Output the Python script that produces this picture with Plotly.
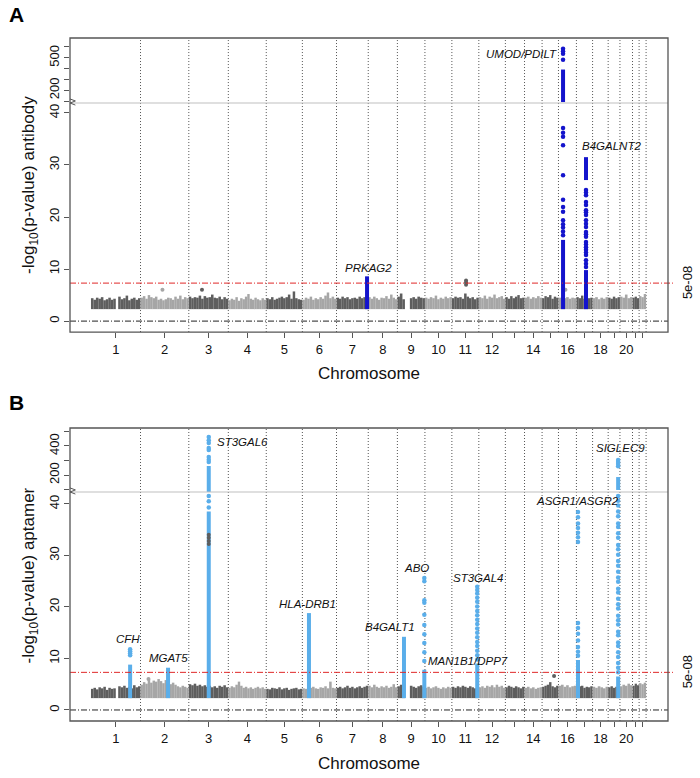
import plotly.graph_objects as go
import numpy as np

# ---------------- data ----------------
chrom_span_mb = [248, 242, 198, 190, 181, 171, 159, 146, 138, 135, 135, 133,
                 96, 88, 82, 90, 81, 78, 59, 63, 33, 35]
tick_labels = ['1', '2', '3', '4', '5', '6', '7', '8', '9', '10', '11', '12',
               '', '14', '', '16', '', '18', '', '20', '', '']

# top of the dense band of sub-threshold SNPs (-log10 p), per chromosome, ~12 Mb bins
band_a = [
    [4.4, 4.1, 4.5, 4.3, 4.6, 4.0, 4.2, 4.5, 4.1, 4.3, None, 4.7, 4.2, 4.4, 4.9, 4.0, 4.3, 4.5, 4.1, 4.4],
    [4.5, 4.8, 4.3, 5.0, 4.6, 4.4, 4.7, 4.1, 4.3, 4.0, 4.2, 4.5, 4.4, 4.1, 4.7, 4.3, 4.9, 4.2, 4.6, 4.4],
    [4.7, 4.4, 4.6, 4.5, 4.9, 4.3, 4.8, 4.5, 4.6, 5.1, 4.5, 4.4, 4.7, 4.2, 4.6, 4.3],
    [4.0, 4.3, 4.1, 4.6, 3.9, 4.4, 4.2, 4.7, 5.2, 4.3, 4.1, 4.5, 4.2, 4.0, 4.4, 4.1],
    [4.4, 4.2, 4.6, 4.1, 4.3, 4.5, 4.7, 4.4, 4.6, 5.1, 4.3, 5.7, 4.4, 4.2, 4.1],
    [4.1, 4.5, 4.3, 4.7, 4.1, 4.4, 4.2, 4.6, 4.3, 4.9, 5.5, 4.4, 4.7, 4.3],
    [4.5, 4.3, 4.7, 4.4, 4.6, 4.2, 4.4, 4.5, 4.3, 4.7, 4.4, 4.6, 4.2],
    [4.6, 4.3, 4.7, 4.4, 4.1, 4.5, 4.4, 4.8, 4.3, 5.1, 4.5, 4.2],
    [4.7, 5.3, 4.2, None, None, 4.4, 4.6, 4.3, 4.7, 4.5, 4.4],
    [4.5, 4.3, 4.6, 4.4, 4.9, 4.2, 4.5, 4.3, 4.7, 4.4, 4.6],
    [4.4, 4.7, 4.5, 4.6, 4.3, 5.3, 4.7, 4.4, 4.6, 4.2, 4.5],
    [4.6, 4.4, 4.9, 4.3, 4.7, 4.5, 5.1, 4.4, 4.6, 4.8, 4.3],
    [4.6, 4.3, 4.8, 4.4, 4.7, 5.0, 4.4, 4.5],
    [4.5, 4.7, 4.3, 4.6, 4.4, 4.8, 4.5],
    [4.4, 4.8, 4.6, 5.0, 4.3, 4.7, 4.5],
    [4.5, 4.7, 4.4, 4.6, 4.3, 4.5, 4.4],
    [4.6, 4.4, 4.9, 4.3, 4.7, 4.4, 4.5],
    [4.4, 4.6, 4.2, 4.5, 4.3, 4.6],
    [4.5, 4.3, 4.7, 4.4, 4.6],
    [4.7, 4.5, 5.1, 4.4, 4.6],
    [4.5, 4.7, 4.4],
    [4.8, 4.6, 5.2],
]
band_b = [
    [4.1, 4.3, 4.0, 4.4, 4.2, 4.5, 3.9, 4.3, 4.1, 4.2, None, 4.6, 4.4, 4.7, 4.3, 4.5, 4.2, 4.8, 4.4, 4.6],
    [4.9, 5.4, 5.1, 5.9, 5.3, 5.7, 5.5, 6.0, 5.6, 5.2, 5.8, 5.4, 5.0, 5.3, 4.9, 4.6, 4.4, 4.7, 4.5, 4.3],
    [5.0, 4.8, 5.1, 4.7, 4.9, 4.6, 4.8, 4.5, 4.7, 4.4, 4.6, 4.3, 4.7, 4.5, 4.8, 4.4],
    [4.3, 4.6, 4.4, 4.9, 5.5, 4.7, 4.3, 4.5, 4.2, 4.4, 4.1, 4.3, 4.5, 4.2, 4.4, 4.1],
    [4.1, 4.0, 4.3, 4.2, 4.1, 4.4, 4.0, 4.2, 4.3, 3.9, 4.1, 4.2, 4.3, 4.0, 4.1],
    [4.2, 4.1, 4.4, 4.3, 4.5, 4.2, 4.1, 4.4, 4.3, 4.6, 4.2, 5.5, 4.3, 4.2],
    [4.3, 4.5, 4.2, 4.4, 4.7, 4.3, 4.5, 4.2, 4.4, 4.6, 4.3, 4.5, 4.7],
    [4.7, 4.4, 4.9, 4.5, 4.3, 4.6, 4.4, 4.7, 4.3, 4.5, 5.0, 4.4],
    [4.6, 4.9, 4.4, None, None, 4.7, 4.5, 4.3, 4.6, 4.8, 4.5],
    [4.3, 4.5, 4.2, 4.4, 4.6, 4.3, 4.1, 4.4, 4.2, 4.5, 4.3],
    [4.5, 4.3, 4.6, 4.4, 4.7, 4.5, 4.3, 4.6, 4.4, 4.2, 4.5],
    [4.4, 4.6, 4.3, 4.7, 4.5, 4.8, 4.4, 4.9, 4.5, 4.7, 4.3],
    [4.4, 4.7, 4.5, 4.3, 4.6, 4.4, 4.2, 4.5],
    [4.3, 4.5, 4.2, 4.4, 4.1, 4.3, 4.4],
    [4.5, 4.7, 4.9, 5.4, 4.6, 4.4, 4.7],
    [4.7, 4.9, 4.5, 4.8, 4.4, 4.6, 4.7],
    [4.4, 4.6, 4.7, 4.3, 4.5, 4.4, 4.6],
    [4.5, 4.3, 4.6, 4.4, 4.2, 4.5],
    [4.4, 4.6, 4.3, 4.5, 4.7],
    [4.6, 4.9, 4.7, 5.1, 4.8],
    [4.7, 5.1, 4.8],
    [5.2, 5.0, 5.3],
]
band_floor = 2.3

# isolated sub-threshold points above the band: chromosome, position (Mb), -log10 p
extra_a_chrom = [2, 3, 11, 11, 11, 16]
extra_a_pos = [110, 66, 71, 71, 71, 35]
extra_a_val = [6.0, 6.0, 7.0, 7.4, 7.8, 6.0]
extra_b_chrom = [2, 15, 3, 3, 3, 3]
extra_b_pos = [40, 60, 100, 100, 100, 100]
extra_b_val = [6.0, 6.6, 32.2, 32.8, 33.4, 34.0]

# significant loci (antibody): dense runs (lo, hi) and individual points
hits_a_gene = ['PRKAG2', 'UMOD/PDILT', 'B4GALNT2']
hits_a_chrom = [7, 16, 17]
hits_a_pos = [153, 23, 48]
hits_a_runs = [
    [(2.3, 8.6)],
    [(2.3, 15.6), (91, 391)],
    [(2.3, 9.8), (27.1, 31.5)],
]
hits_a_points = [
    [],
    [16.5, 17.2, 18.0, 18.6, 19.4, 21.0, 21.9, 23.3, 28.0, 33.8, 35.4, 36.2, 37.1,
     482, 536, 560, 582],
    [10.4, 11.0, 11.7, 12.7, 13.2, 13.7, 14.2, 14.7, 15.2, 16.2, 16.7, 17.1, 18.1, 18.7,
     19.4, 20.4, 20.9, 21.3, 22.3, 22.9, 24.2, 24.7, 25.2],
]

# significant loci (aptamer)
hits_b_gene = ['CFH', 'MGAT5', 'ST3GAL6', 'HLA-DRB1', 'B4GALT1', 'ABO', 'ST3GAL4',
               'ASGR1/ASGR2', 'SIGLEC9']
hits_b_chrom = [1, 2, 3, 6, 9, 9, 11, 17, 19]
hits_b_pos = [196, 138, 100, 33, 33, 135, 127, 8, 50]
hits_b_runs = [
    [(2.3, 8.8)],
    [(2.3, 8.2)],
    [(2.3, 38.5), (83, 262)],
    [(2.3, 18.8)],
    [(2.3, 14.2)],
    [(2.3, 7.8)],
    [(2.3, 9.0)],
    [(2.3, 9.7)],
    [(2.3, 6.5), (97, 186)],
]
hits_b_points = [
    [10.6, 11.0, 11.4, 11.8],
    [],
    [39.3, 40.5, 41.5, 290, 305, 324, 372, 386, 421, 440, 462],
    [],
    [],
    [9.5, 11.2, 13.0, 14.7, 16.5, 18.5, 20.8, 21.3, 25.0, 25.6],
    [9.8, 10.6, 11.5, 12.4, 13.2, 14.1, 15.0, 15.8, 16.7, 17.5, 18.4, 19.2, 20.1, 21.0,
     21.8, 22.6, 23.3, 23.9],
    [10.5, 11.3, 12.2, 13.5, 14.8, 15.9, 16.9, 32.6, 33.5, 34.4, 35.3, 36.2, 37.4, 38.4],
    [7.3, 8.2, 9.1, 10.3, 11.2, 12.4, 13.1, 14.5, 15.2, 16.6, 17.4, 18.3, 19.7, 20.5,
     21.6, 22.8, 23.5, 24.9, 25.7, 26.8, 28.0, 28.9, 30.1, 31.2, 32.0, 33.4, 34.3, 35.5,
     36.2, 37.6, 38.5, 39.7, 40.6, 41.5, 260, 275, 290, 303],
]
# label placement (axis value, horizontal shift in px, anchor)
labels_a = [(10.2, 1, 'center', 'low'), (536, -4, 'right', 'up'), (33.7, 25, 'center', 'low')]
labels_b = [(13.8, -2, 'center', 'low'), (10.1, 0, 'center', 'low'), (428, 6, 'left', 'up'),
            (20.6, -1, 'center', 'low'), (16.1, -14, 'center', 'low'), (27.6, -8, 'center', 'low'),
            (25.6, 1, 'center', 'low'), (40.6, -1, 'center', 'low'), (386, 2, 'center', 'up')]
extra_label_b = ('MAN1B1/DPP7', 9, 135, 9.5)

genome_threshold = -np.log10(5e-8)

# ---------------- styling ----------------
DARK = '#5e5e5e'
LIGHT = '#a6a6a6'
BLUE_A = '#1414cc'
BLUE_B = '#5aaeea'
FONT = 'Liberation Sans, Arial, sans-serif'
AXC = '#555555'

spans = np.array(chrom_span_mb, dtype=float)
offsets = np.concatenate([[0], np.cumsum(spans)[:-1]])
ends = offsets + spans
mids = offsets + spans / 2


def gx(c, p):
    return offsets[c - 1] + p


fig = go.Figure()


def add_band(band, xa, ya):
    for shade, col in ((0, DARK), (1, LIGHT)):
        xs, ys, ws = [], [], []
        for ci, vals in enumerate(band):
            if ci % 2 != shade:
                continue
            n = len(vals)
            bw = spans[ci] / n
            for i, v in enumerate(vals):
                if v is None:
                    continue
                xs.append(offsets[ci] + (i + 0.5) * bw)
                ys.append(v - band_floor)
                ws.append(bw * 1.03)
        fig.add_trace(go.Bar(x=xs, y=ys, base=band_floor, width=ws, marker_color=col,
                             marker_line_width=0, xaxis=xa, yaxis=ya, showlegend=False,
                             hoverinfo='skip'))


def add_extra(chroms, poss, vals, xa, ya_list):
    cols = [DARK if c % 2 == 1 else LIGHT for c in chroms]
    xs = [gx(c, p) for c, p in zip(chroms, poss)]
    for ya in ya_list:
        fig.add_trace(go.Scatter(x=xs, y=vals, mode='markers',
                                 marker=dict(size=4, color=cols), xaxis=xa, yaxis=ya,
                                 showlegend=False, hoverinfo='skip'))


def add_hits(chroms, poss, runs, points, color, xa, ya_list):
    for c, p, rr, pts in zip(chroms, poss, runs, points):
        x0 = gx(c, p)
        lx, ly = [], []
        for lo, hi in rr:
            lx += [x0, x0, None]
            ly += [lo, hi, None]
        for ya in ya_list:
            fig.add_trace(go.Scatter(x=lx, y=ly, mode='lines',
                                     line=dict(color=color, width=4),
                                     xaxis=xa, yaxis=ya, showlegend=False, hoverinfo='skip'))
            if pts:
                fig.add_trace(go.Scatter(x=[x0] * len(pts), y=pts, mode='markers',
                                         marker=dict(size=4.5, color=color),
                                         xaxis=xa, yaxis=ya, showlegend=False,
                                         hoverinfo='skip'))


# Panel A
add_band(band_a, 'x', 'y')
add_extra(extra_a_chrom, extra_a_pos, extra_a_val, 'x', ['y'])
add_hits(hits_a_chrom, hits_a_pos, hits_a_runs, hits_a_points, BLUE_A, 'x', ['y'])
add_hits(hits_a_chrom, hits_a_pos, hits_a_runs, hits_a_points, BLUE_A, 'x2', ['y2'])
# Panel B
add_band(band_b, 'x3', 'y3')
add_hits(hits_b_chrom, hits_b_pos, hits_b_runs, hits_b_points, BLUE_B, 'x3', ['y3'])
add_hits(hits_b_chrom, hits_b_pos, hits_b_runs, hits_b_points, BLUE_B, 'x4', ['y4'])
add_extra(extra_b_chrom, extra_b_pos, extra_b_val, 'x3', ['y3'])

# ---------------- layout ----------------
W, H = 700, 778
ML, MR, MT, MB = 70, 32, 38, 57
XR = [-105.2, 2890.8]

A_low = [0.5695, 0.9048]
A_up = [0.9048, 1.0]
B_low = [0.0, 0.3353]
B_up = [0.3353, 0.4290]

tickfont = dict(family=FONT, size=13, color='#111')


def xaxis_main(anchor):
    return dict(domain=[0, 1], range=XR, anchor=anchor, showgrid=False, zeroline=False,
                showline=False, tickvals=list(mids), ticktext=tick_labels, ticks='outside',
                ticklen=5, tickcolor=AXC, tickfont=tickfont, fixedrange=True)


def xaxis_hidden(anchor):
    return dict(domain=[0, 1], range=XR, anchor=anchor, visible=False, showgrid=False,
                zeroline=False)


def yaxis(dom, rng, tv, tt, anchor):
    return dict(domain=dom, range=rng, anchor=anchor, showgrid=False, zeroline=False,
                showline=False, tickvals=tv, ticktext=tt, ticks='outside', ticklen=5,
                tickcolor=AXC, tickfont=tickfont, tickangle=-90)


fig.update_layout(
    width=W, height=H, margin=dict(l=ML, r=MR, t=MT, b=MB),
    paper_bgcolor='white', plot_bgcolor='white', showlegend=False, barmode='overlay',
    font=dict(family=FONT, color='#111'),
    xaxis=xaxis_main('y'),
    yaxis=yaxis(A_low, [-2.1, 41.9], [0, 10, 20, 30, 40], ['0', '10', '20', '30', '40'], 'x'),
    xaxis2=xaxis_hidden('y2'),
    yaxis2=yaxis(A_up, [82, 682], [100, 200, 300, 400, 500, 600], ['', '200', '', '', '500', ''], 'x2'),
    xaxis3=xaxis_main('y3'),
    yaxis3=yaxis(B_low, [-2.14, 42.3], [0, 10, 20, 30, 40], ['0', '10', '20', '30', '40'], 'x3'),
    xaxis4=xaxis_hidden('y4'),
    yaxis4=yaxis(B_up, [83, 524], [100, 200, 300, 400, 500], ['', '200', '', '400', ''], 'x4'),
)

shapes = []
for (lo, hi), (ylo, yhi), yref, xref in (((A_low[0], A_up[1]), (A_low, A_up), 'y', 'x'),
                                          ((B_low[0], B_up[1]), (B_low, B_up), 'y3', 'x3')):
    # chromosome boundaries
    for e in ends:
        shapes.append(dict(type='line', xref=xref, yref='paper', x0=e, x1=e, y0=lo, y1=hi,
                           line=dict(color='#555', width=1, dash='1px,2px'), layer='below'))
    # zero line and genome-wide threshold
    shapes.append(dict(type='line', xref='paper', yref=yref, x0=0, x1=1, y0=0, y1=0,
                       line=dict(color='#222', width=1, dash='6px,2px,1px,2px')))
    shapes.append(dict(type='line', xref='paper', yref=yref, x0=0, x1=1.01,
                       y0=genome_threshold, y1=genome_threshold,
                       line=dict(color='#e02828', width=1, dash='6px,2px,1px,2px')))
    # axis break
    shapes.append(dict(type='line', xref='paper', yref='paper', x0=0, x1=1,
                       y0=ylo[1], y1=ylo[1], line=dict(color='#c0c0c0', width=1.2)))
    b = ylo[1]
    shapes.append(dict(type='path', xref='paper', yref='paper',
                       path=f'M 0.0 {b + 0.006} L 0.009 {b + 0.003} L 0.0 {b} L 0.009 {b - 0.003}',
                       line=dict(color=AXC, width=1)))
    # box
    shapes.append(dict(type='rect', xref='paper', yref='paper', x0=0, x1=1, y0=lo, y1=hi,
                       line=dict(color=AXC, width=1.3)))
fig.update_layout(shapes=shapes)

ann = []
lab_font = dict(family=FONT, size=11.5, color='#111')
for g, c, p, (v, sh, anc, part) in zip(hits_a_gene, hits_a_chrom, hits_a_pos, labels_a):
    ann.append(dict(text=f'<i>{g}</i>', x=gx(c, p), xref='x', y=v,
                    yref='y2' if part == 'up' else 'y', xanchor=anc, yanchor='middle',
                    xshift=sh, showarrow=False, font=lab_font))
for g, c, p, (v, sh, anc, part) in zip(hits_b_gene, hits_b_chrom, hits_b_pos, labels_b):
    ann.append(dict(text=f'<i>{g}</i>', x=gx(c, p), xref='x3', y=v,
                    yref='y4' if part == 'up' else 'y3', xanchor=anc, yanchor='middle',
                    xshift=sh, showarrow=False, font=lab_font))
g, c, p, v = extra_label_b
ann.append(dict(text=f'<i>{g}</i>', x=gx(c, p), xref='x3', y=v, yref='y3', xanchor='left',
                yanchor='middle', xshift=2, showarrow=False, font=lab_font))

title_font = dict(family=FONT, size=17, color='#111')
for yc, txt in ((0.7848, '-log<sub>10</sub>(p-value) antibody'),
                (0.2130, '-log<sub>10</sub>(p-value) aptamer')):
    ann.append(dict(text=txt, x=-0.0669, y=yc, xref='paper', yref='paper', textangle=-90,
                    showarrow=False, font=title_font, xanchor='center', yanchor='middle'))
for yc in (0.5095, -0.0615):
    ann.append(dict(text='Chromosome', x=0.5, y=yc, xref='paper', yref='paper',
                    showarrow=False, font=title_font, xanchor='center', yanchor='middle'))
for yref in ('y', 'y3'):
    ann.append(dict(text='5e-08', x=1.0318, y=genome_threshold, xref='paper', yref=yref,
                    textangle=-90, showarrow=False, font=dict(family=FONT, size=13, color='#111'),
                    xanchor='center', yanchor='middle'))
for yc, txt in ((1.0337, 'A'), (0.467, 'B')):
    ann.append(dict(text=f'<b>{txt}</b>', x=-0.0903, y=yc, xref='paper', yref='paper',
                    showarrow=False, font=dict(family=FONT, size=21, color='#000'),
                    xanchor='center', yanchor='middle'))
fig.update_layout(annotations=ann)

fig.write_html('out.html')
